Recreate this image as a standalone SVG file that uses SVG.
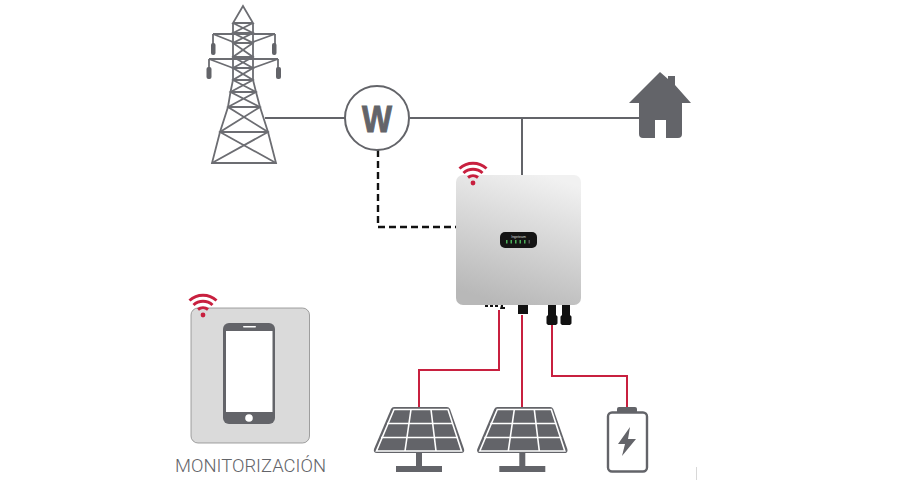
<svg xmlns="http://www.w3.org/2000/svg" width="899" height="504" viewBox="0 0 899 504">
<style>
.g{fill:#636469}
.tw{fill:none;stroke:#6c6d72;stroke-width:1.8}
.wire{fill:none;stroke:#636469;stroke-width:2}
.red{fill:none;stroke:#c8203f;stroke-width:2}
.wf{fill:none;stroke:#c8203f;stroke-width:3;stroke-linecap:butt}
.k{fill:#111}
</style>
<defs>
<linearGradient id="inv" x1="0.7" y1="0" x2="0.4" y2="1"><stop offset="0" stop-color="#f1f1f1"/><stop offset="1" stop-color="#b8b8b8"/></linearGradient>
<g id="wifi"><circle cx="0" cy="0" r="2.4" fill="#c8203f"/><path class="wf" d="M-5-5.500A8 8 0 0 1 5-5.500"/><path class="wf" d="M-9.500-10A14 14 0 0 1 9.500-10"/><path class="wf" d="M-13.500-14.500A20 20 0 0 1 13.500-14.500"/></g>
<g id="panel"><path class="g" d="M394 407H447Q449 407 450 409L464 449Q465 453 461 453H377Q373 453 374 449L391 409Q392 407 394 407Z"/><g stroke="#fff" stroke-width="1.600" fill="none"><path d="M394 409.500H448L461.500 451H376.500L394 409.500Z"/><path d="M387 423.500H453M381 437.500H458M411 409.500L405 451M431 409.500L436 451"/></g><rect class="g" x="416" y="452" width="6" height="15"/><rect class="g" x="396" y="466" width="46" height="6"/></g>
</defs>
<g id="connectors">
<path class="wire" d="M265 118H345M410 118H640M522 118V175"/>
<path fill="none" stroke="#111" stroke-width="2.400" stroke-dasharray="7 4" d="M378 150V227H456"/>
<path class="red" d="M499 310V370H419V407"/>
<path class="red" d="M522 315V407"/>
<path class="red" d="M552 322V376H627V407"/>
</g>
<g id="tower">
<path class="tw" d="M243 6L233 23H253ZM233 23V80L230.500 92L228 107L220 132L212 163H276L268 132L260 107L256 92L253 80V23"/>
<path class="tw" d="M233 33H253M233 43H253M233 57H253M233 68H253M233 80H253M230.500 92H256M228 107H260M220 132H268"/>
<path class="tw" d="M233 23L253 33L233 43L253 57L233 68L253 80L230.500 92L260 107L220 132L276 163M253 23L233 33L253 43L233 57L253 68L233 80L256 92L228 107L268 132L212 163"/>
<path class="tw" d="M213 34H275M209 59H278M213 34L233 42M275 34L253 42M209 59L233 68M278 59L253 68M213 34V44M275 34V44M209 59V68M278 59V68"/>
<rect class="g" x="211" y="43" width="4.500" height="12" rx="2"/><rect class="g" x="272" y="43" width="4.500" height="12" rx="2"/>
<rect class="g" x="206.500" y="67" width="5" height="12" rx="2"/><rect class="g" x="276" y="67" width="5" height="12" rx="2"/>
</g>
<g id="meter">
<circle cx="377" cy="118" r="32" fill="#fff" stroke="#636469" stroke-width="2"/>
<text x="362" y="131.500" textLength="30" lengthAdjust="spacingAndGlyphs" font-family="'Liberation Sans',Arial,sans-serif" font-weight="700" font-size="37" fill="#636469" stroke="#636469" stroke-width="1">W</text>
</g>
<g id="house">
<path class="g" d="M660 72L668 79V76H675V85L691 103H682V134Q682 138 678 138H666V120H655V138H643Q639 138 639 134V103H629Z"/>
</g>
<g id="inverter">
<path class="k" d="M485 305h3v2h-3zM490 305h3v2h-3zM495 305h3v2h-3zM501 305h2v2h2v2h-5z"/>
<rect class="k" x="518" y="304" width="10" height="10"/>
<path class="k" d="M548 304h8v11l1.500 1.500v7l-1.500 1.500h-8l-1.500-1.500v-7l1.500-1.500zM562 304h8v11l1.500 1.500v7l-1.500 1.500h-8l-1.500-1.500v-7l1.500-1.500z"/>
<rect x="456" y="175" width="125" height="130" rx="7" fill="url(#inv)"/>
<rect x="500" y="232" width="37" height="16" rx="5" fill="#141414"/>
<text x="518.500" y="238" text-anchor="middle" font-family="'Liberation Sans',Arial,sans-serif" font-size="3.500" fill="#ddd">Ingeteam</text>
<g fill="#4caf5a"><rect x="506" y="240" width="1.500" height="3.500"/><rect x="510.500" y="240" width="1.500" height="3.500"/><rect x="515" y="240" width="1.500" height="3.500"/><rect x="519.500" y="240" width="1.500" height="3.500"/><rect x="524" y="240" width="1.500" height="3.500"/><rect x="528.500" y="240" width="1.500" height="3.500" fill="#555"/></g>
<use href="#wifi" x="473" y="183"/>
</g>
<g id="monitor">
<rect x="191" y="308" width="118.500" height="135" rx="7" fill="#dadada" stroke="#8a8a8a" stroke-width="0.800"/>
<rect class="g" x="223" y="323" width="52" height="101" rx="6"/>
<rect x="226" y="331" width="46.500" height="81" fill="#fff"/>
<rect x="243" y="326" width="13" height="1.600" rx="0.800" fill="#fff"/>
<circle cx="249" cy="418" r="3.800" fill="#fff"/>
<use href="#wifi" x="203" y="315"/>
<text x="175" y="472" textLength="151" lengthAdjust="spacingAndGlyphs" font-family="Roboto,'Liberation Sans',sans-serif" font-weight="300" font-size="18" fill="#636469">MONITORIZACIÓN</text>
</g>
<g id="solar-1"><use href="#panel"/></g>
<g id="solar-2"><use href="#panel" x="103.300"/></g>
<g id="battery">
<path class="g" d="M617 412V409Q617 407 619 407H635Q637 407 637 409V412Z"/>
<rect x="608" y="412.500" width="39" height="59" rx="4" fill="#fff" stroke="#636469" stroke-width="2.400"/>
<path class="g" d="M630 427L618 444H625L622 456L636 439H628Z"/>
</g>
<path stroke="#d8d8d8" d="M696.500 467V480"/>
</svg>
